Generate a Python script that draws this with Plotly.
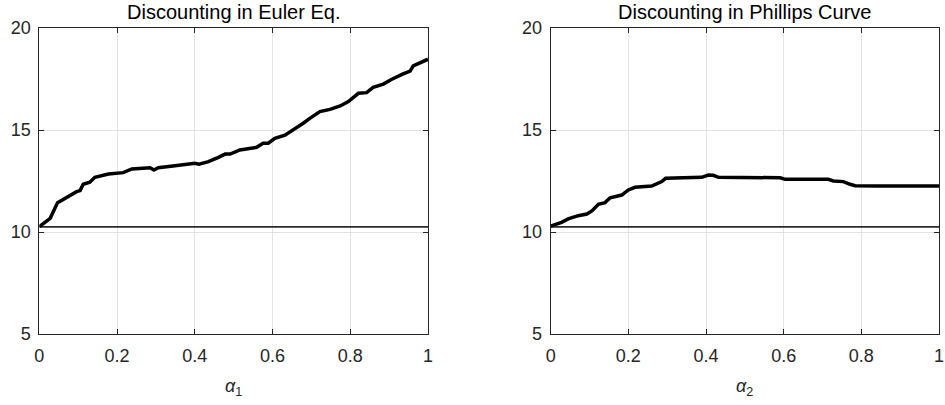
import plotly.graph_objects as go

# ---- data ----
alpha1 = [0.0, 0.028, 0.047, 0.075, 0.096, 0.105, 0.113, 0.13, 0.143, 0.178, 0.216, 0.238,
          0.285, 0.295, 0.306, 0.349, 0.4, 0.411, 0.435, 0.461, 0.478, 0.491, 0.516, 0.559,
          0.576, 0.589, 0.606, 0.632, 0.653, 0.679, 0.696, 0.722, 0.748, 0.774, 0.795, 0.821,
          0.842, 0.859, 0.885, 0.907, 0.936, 0.954, 0.962, 0.979, 1.0]
euler = [10.26, 10.67, 11.44, 11.76, 11.98, 12.03, 12.34, 12.44, 12.68, 12.84, 12.91, 13.09,
         13.15, 13.04, 13.15, 13.25, 13.37, 13.32, 13.45, 13.66, 13.82, 13.82, 14.02, 14.15,
         14.35, 14.35, 14.59, 14.75, 15.0, 15.33, 15.57, 15.9, 16.01, 16.18, 16.39, 16.8,
         16.83, 17.09, 17.25, 17.49, 17.75, 17.89, 18.14, 18.27, 18.47]

alpha2 = [0.0, 0.028, 0.045, 0.071, 0.093, 0.106, 0.123, 0.14, 0.153, 0.183, 0.2, 0.217,
          0.26, 0.277, 0.286, 0.296, 0.346, 0.389, 0.406, 0.419, 0.432, 0.5, 0.591, 0.604,
          0.715, 0.728, 0.754, 0.771, 0.784, 0.84, 1.0]
phillips = [10.29, 10.47, 10.64, 10.8, 10.88, 11.03, 11.36, 11.44, 11.68, 11.81, 12.06, 12.19,
            12.25, 12.42, 12.47, 12.63, 12.66, 12.68, 12.79, 12.78, 12.68, 12.68, 12.66, 12.58,
            12.58, 12.5, 12.47, 12.34, 12.27, 12.25, 12.25]

baseline_x = [0, 1]
baseline_y = [10.25, 10.25]

xtick_vals = [0, 0.2, 0.4, 0.6, 0.8, 1]
xtick_text = ["0", "0.2", "0.4", "0.6", "0.8", "1"]
ytick_vals = [5, 10, 15, 20]
ytick_text = ["5", "10", "15", "20"]

titles = ["Discounting in Euler Eq.", "Discounting in Phillips Curve"]
xlabels = ["<i>α</i><sub>1</sub>", "<i>α</i><sub>2</sub>"]

# ---- figure ----
W, H = 945, 405
FONT = "Liberation Sans, Arial, sans-serif"
AXC = "#262626"
GRID = "#e3e3e3"

fig = go.Figure()
for i, (xs, ys) in enumerate([(alpha1, euler), (alpha2, phillips)]):
    xa = "x" if i == 0 else "x2"
    ya = "y" if i == 0 else "y2"
    fig.add_trace(go.Scatter(x=baseline_x, y=baseline_y, mode="lines",
                             line=dict(color="#2b2b2b", width=1.8),
                             xaxis=xa, yaxis=ya, showlegend=False, hoverinfo="skip"))
    fig.add_trace(go.Scatter(x=xs, y=ys, mode="lines",
                             line=dict(color="black", width=3.5),
                             xaxis=xa, yaxis=ya, showlegend=False))

x_domains = [[39.3 / W, 428 / W], [550.7 / W, 939 / W]]
y_domain = [1 - 334 / H, 1 - 28 / H]

common_x = dict(range=[0, 1], tickvals=xtick_vals, ticktext=xtick_text,
                showline=True, mirror="ticks", linecolor=AXC, linewidth=1,
                ticks="inside", ticklen=5, tickcolor=AXC, tickwidth=1,
                showgrid=True, gridcolor=GRID, gridwidth=1, zeroline=False,
                tickfont=dict(family=FONT, size=18, color=AXC), automargin=False,
                ticklabelstandoff=5, fixedrange=True)
common_y = dict(range=[5, 20], tickvals=ytick_vals, ticktext=ytick_text,
                showline=True, mirror="ticks", linecolor=AXC, linewidth=1,
                ticks="inside", ticklen=5, tickcolor=AXC, tickwidth=1,
                showgrid=True, gridcolor=GRID, gridwidth=1, zeroline=False,
                tickfont=dict(family=FONT, size=18, color=AXC), automargin=False,
                ticklabelstandoff=4, domain=y_domain, fixedrange=True)

fig.update_layout(
    width=W, height=H,
    margin=dict(l=0, r=0, t=0, b=0),
    paper_bgcolor="white", plot_bgcolor="white",
    xaxis=dict(common_x, domain=x_domains[0], anchor="y"),
    yaxis=dict(common_y, anchor="x"),
    xaxis2=dict(common_x, domain=x_domains[1], anchor="y2"),
    yaxis2=dict(common_y, anchor="x2"),
)

annotations = []
for i in range(2):
    cx = (x_domains[i][0] + x_domains[i][1]) / 2
    annotations.append(dict(text=titles[i], x=cx, y=1 - 12 / H, xref="paper", yref="paper",
                            xanchor="center", yanchor="middle", showarrow=False,
                            font=dict(family=FONT, size=20, color="black")))
    annotations.append(dict(text=xlabels[i], x=cx, y=1 - 387 / H, xref="paper", yref="paper",
                            xanchor="center", yanchor="middle", showarrow=False,
                            font=dict(family=FONT, size=18, color=AXC)))
fig.update_layout(annotations=annotations)

fig.write_html("out.html", config={"displayModeBar": False},
               post_script="document.body.style.margin='0';")
